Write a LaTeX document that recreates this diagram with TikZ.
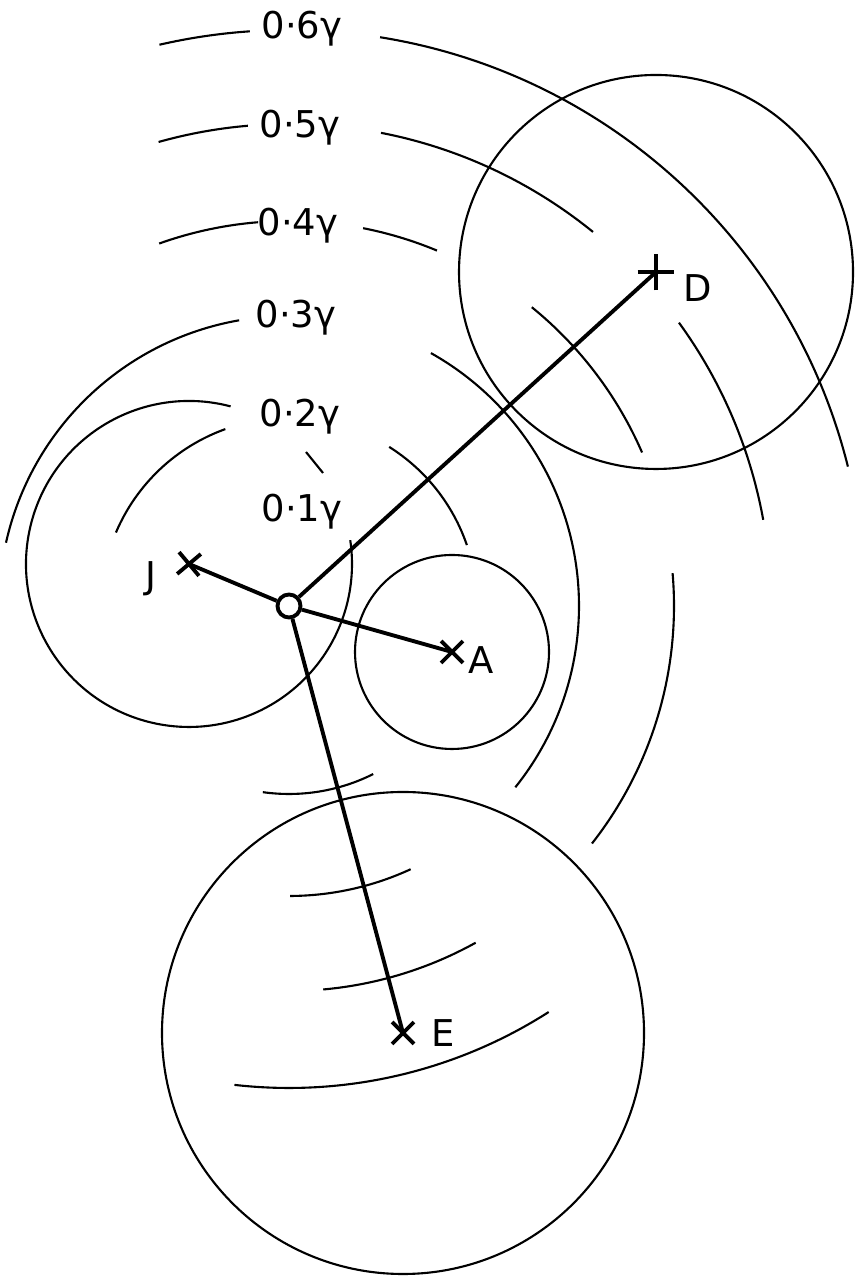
\documentclass[tikz,border=0pt]{standalone}
\usepackage{fontspec}
\setmainfont{DejaVu Sans}
\usetikzlibrary{positioning, shapes.misc}

\begin{document}
\begin{tikzpicture}[
    x=0.01cm, y=0.01cm,
    contour/.style={line width=0.6pt},
    ring/.style={line width=0.6pt},
    link/.style={line width=1.1pt},
    pt/.style={cross out, draw, line width=1.1pt,
               minimum size=0.18cm, inner sep=0pt},
    ptlab/.style={font=\fontsize{10.5}{12}\selectfont, inner sep=0pt},
    lev/.style={font=\fontsize{10.5}{12}\selectfont, inner sep=0pt},
  ]
  \useasboundingbox (0,0) rectangle (868,1280);

  % centre and the four stations
  \node[circle, draw, line width=1.1pt, minimum size=0.23cm,
        inner sep=0pt] (O) at (289,674) {};
  \node[pt, rotate=-5] (J) at (189,716) {};
  \node[pt] (A) at (452,628) {};
  \node[pt, rotate=45, minimum size=0.22cm] (D) at (656,1008) {};
  \node[pt] (E) at (403,247) {};

  \node[ptlab, left=0.32cm of J.center, yshift=-0.15cm] (Jlab) {J};
  \node[ptlab, right=0.16cm of A.center, yshift=-0.08cm] (Alab) {A};
  \node[ptlab, right=0.27cm of D.center, yshift=-0.16cm] (Dlab) {D};
  \node[ptlab, right=0.28cm of E.center] (Elab) {E};

  % circles round the stations
  \draw[ring] (J.center) ++(75.2:163)
      arc[start angle=75.2, end angle=368.4, radius=163];
  \draw[ring] (A.center) circle[radius=97];
  \draw[ring] (D.center) circle[radius=197];
  \draw[ring] (E.center) circle[radius=241];

  % contour labels
  \node[lev] (l6) at (302,1251) {0·6γ};
  \node[lev] (l5) at (300,1152) {0·5γ};
  \node[lev] (l4) at (298,1054) {0·4γ};
  \node[lev] (l3) at (296,962)  {0·3γ};
  \node[lev] (l2) at (300,863)  {0·2γ};
  \node[lev] (l1) at (302,768)  {0·1γ};

  % 0.6 contour
  \draw[contour] (O.center) ++(93.9:576)
      arc[start angle=93.9, end angle=103.0, radius=576];
  \draw[contour] (O.center) ++(14.0:576)
      arc[start angle=14.0, end angle=80.9, radius=576];

  % 0.5 contour
  \draw[contour] (O.center) ++(94.9:482)
      arc[start angle=94.9, end angle=105.7, radius=482];
  \draw[contour] (O.center) ++(50.9:482)
      arc[start angle=50.9, end angle=79.0, radius=482];
  \draw[contour] (O.center) ++(10.3:482)
      arc[start angle=10.3, end angle=36.0, radius=482];
  \draw[contour] (O.center) ++(-96.5:482)
      arc[start angle=-96.5, end angle=-57.4, radius=482];

  % 0.4 contour
  \draw[contour] (O.center) ++(94.6:385)
      arc[start angle=94.6, end angle=109.7, radius=385];
  \draw[contour] (O.center) ++(67.4:385)
      arc[start angle=67.4, end angle=78.9, radius=385];
  \draw[contour] (O.center) ++(23.5:385)
      arc[start angle=23.5, end angle=50.9, radius=385];
  \draw[contour] (O.center) ++(-38.1:385)
      arc[start angle=-38.1, end angle=4.9, radius=385];
  \draw[contour] (O.center) ++(-84.9:385)
      arc[start angle=-84.9, end angle=-61.0, radius=385];

  % 0.3 contour
  \draw[contour] (O.center) ++(99.9:290)
      arc[start angle=99.9, end angle=167.4, radius=290];
  \draw[contour] (O.center) ++(-38.7:290)
      arc[start angle=-38.7, end angle=60.7, radius=290];
  \draw[contour] (O.center) ++(-89.8:290)
      arc[start angle=-89.8, end angle=-65.2, radius=290];

  % 0.2 contour
  \draw[contour] (O.center) ++(109.8:188)
      arc[start angle=109.8, end angle=157.0, radius=188];
  \draw[contour] (O.center) ++(18.9:188)
      arc[start angle=18.9, end angle=57.8, radius=188];
  \draw[contour] (O.center) ++(-98.0:188)
      arc[start angle=-98.0, end angle=-63.4, radius=188];

  % 0.1 mark
  \draw[contour] (306,828) -- (323,807);

  % links from the centre
  \draw[link] (O) -- (J.center);
  \draw[link] (O) -- (A.center);
  \draw[link] (O) -- (D.center);
  \draw[link] (O) -- (E.center);
\end{tikzpicture}
\end{document}
